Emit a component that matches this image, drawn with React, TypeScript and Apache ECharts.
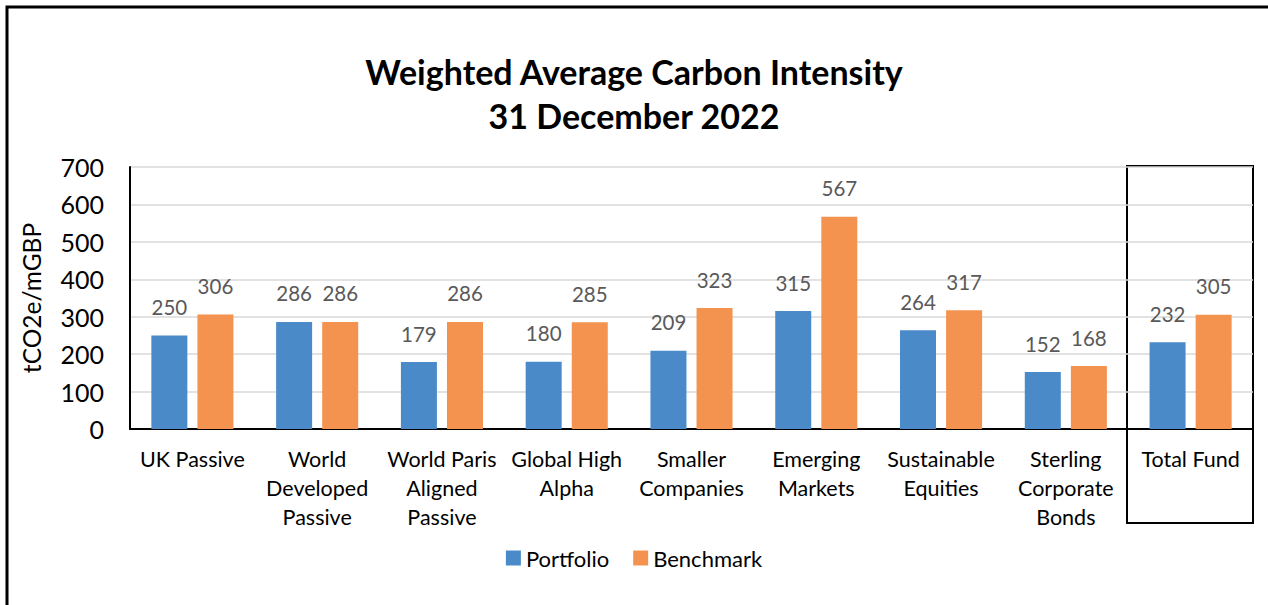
import React, { useEffect, useRef } from "react";
import * as echarts from "echarts";

const categories = [
  "UK Passive",
  "World\nDeveloped\nPassive",
  "World Paris\nAligned\nPassive",
  "Global High\nAlpha",
  "Smaller\nCompanies",
  "Emerging\nMarkets",
  "Sustainable\nEquities",
  "Sterling\nCorporate\nBonds",
  "Total Fund",
];
const portfolio = [250, 286, 179, 180, 209, 315, 264, 152, 232];
const benchmark = [306, 286, 286, 285, 323, 567, 317, 168, 305];
const yTicks = [0, 100, 200, 300, 400, 500, 600, 700];

const FONT = "Lato, 'Open Sans', sans-serif";

export default function App() {
  const ref = useRef<HTMLDivElement>(null);
  useEffect(() => {
    if (!ref.current) return;
    const chart = echarts.init(ref.current, null, { renderer: "svg" });
    chart.setOption({
      animation: false,
      backgroundColor: "#ffffff",
      title: {
        text: "Weighted Average Carbon Intensity\n31 December 2022",
        left: "center",
        top: 44,
        textStyle: {
          fontFamily: FONT,
          fontWeight: "bold",
          fontSize: 34,
          lineHeight: 44,
          color: "#000",
        },
      },
      legend: {
        bottom: 31,
        left: "center",
        itemWidth: 15,
        itemHeight: 15,
        itemGap: 24,
        icon: "rect",
        textStyle: { fontFamily: FONT, fontSize: 22, color: "#000" },
        data: ["Portfolio", "Benchmark"],
      },
      grid: { left: 130, right: 15, top: 167, bottom: 176, containLabel: false },
      xAxis: {
        type: "category",
        data: categories,
        axisLine: { show: true, lineStyle: { color: "#000", width: 2 } },
        axisTick: { show: false },
        axisLabel: {
          interval: 0,
          margin: 15,
          fontFamily: FONT,
          fontSize: 21.5,
          lineHeight: 29,
          color: "#000",
        },
      },
      yAxis: {
        type: "value",
        min: yTicks[0],
        max: yTicks[yTicks.length - 1],
        interval: 100,
        name: "tCO2e/mGBP",
        nameLocation: "middle",
        nameGap: 86,
        nameRotate: 90,
        nameTextStyle: { fontFamily: FONT, fontSize: 24.5, color: "#000" },
        axisLine: { show: true, lineStyle: { color: "#000", width: 2 } },
        axisTick: { show: false },
        axisLabel: { margin: 26, fontFamily: FONT, fontSize: 25, color: "#000" },
        splitLine: { lineStyle: { color: "#d9d9d9", width: 1.5 } },
      },
      series: [
        {
          name: "Portfolio",
          type: "bar",
          data: portfolio,
          barWidth: 36,
          barGap: "28%",
          itemStyle: { color: "#4A8AC9" },
          label: {
            show: true,
            position: "top",
            distance: 18,
            fontFamily: FONT,
            fontSize: 20.5,
            color: "#595959",
          },
        },
        {
          name: "Benchmark",
          type: "bar",
          data: benchmark,
          barWidth: 36,
          itemStyle: { color: "#F4934F" },
          label: {
            show: true,
            position: "top",
            distance: 18,
            fontFamily: FONT,
            fontSize: 20.5,
            color: "#595959",
          },
        },
      ],
      graphic: [
        {
          type: "rect",
          shape: { x: 7, y: 7, width: 1300, height: 700 },
          style: { fill: "none", stroke: "#000", lineWidth: 3 },
          silent: true,
        },
        {
          type: "rect",
          shape: { x: 1127, y: 166, width: 126, height: 357 },
          style: { fill: "none", stroke: "#000", lineWidth: 2 },
          silent: true,
        },
      ],
    });
    return () => chart.dispose();
  }, []);
  return (
    <div
      ref={ref}
      style={{ position: "fixed", left: 0, top: 0, width: 1268, height: 605 }}
    />
  );
}
